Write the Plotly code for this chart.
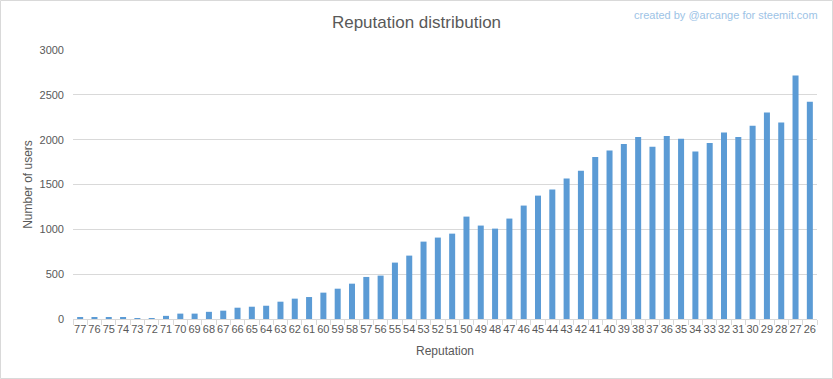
import plotly.graph_objects as go

reputation = [str(r) for r in range(77, 25, -1)]
users = [20, 18, 15, 15, 10, 10, 35, 60, 60, 80, 93, 126, 137, 148, 193, 227,
         245, 294, 338, 394, 469, 484, 629, 707, 863, 908, 952, 1142, 1042, 1008,
         1120, 1265, 1376, 1443, 1566, 1652, 1808, 1879, 1953, 2031, 1920, 2042,
         2009, 1867, 1964, 2079, 2031, 2154, 2302, 2191, 2715, 2422]

W, H = 833, 379
ml, mr, mt, mb = 73, 16, 50, 60
pw, ph = W - ml - mr, H - mt - mb

fig = go.Figure(go.Bar(x=reputation, y=users, marker_color="#5b9bd5", marker_line_width=0))

font = "Liberation Sans"
fig.update_layout(
    width=W, height=H,
    margin=dict(l=ml, r=mr, t=mt, b=mb, autoexpand=False),
    paper_bgcolor="white", plot_bgcolor="white",
    bargap=0.58,
    showlegend=False,
    font=dict(family=font, color="#595959", size=11),
    title=dict(text="Reputation distribution", x=0.5, xanchor="center", y=1 - 22 / H, yanchor="middle",
               font=dict(size=17, color="#595959", family=font)),
    xaxis=dict(type="category", showgrid=False, showline=True, linecolor="#d9d9d9",
               ticks="outside", tickson="boundaries", ticklen=5, tickcolor="#d9d9d9",
               tickangle=0, tickfont=dict(size=11, color="#595959"),
               title=dict(text="Reputation", font=dict(size=12, color="#595959"), standoff=12)),
    yaxis=dict(range=[0, 3000], dtick=500, showgrid=True, gridcolor="#d9d9d9", zeroline=False,
               showline=False, tickfont=dict(size=11, color="#595959"), ticks="", ticklabelstandoff=8,
               title=dict(text="Number of users", font=dict(size=12, color="#595959"), standoff=4)),
    annotations=[dict(text="created by @arcange for steemit.com", xref="paper", yref="paper",
                      x=(820 - ml) / pw, y=1 + (mt - 15) / ph, xanchor="right", yanchor="middle",
                      showarrow=False, font=dict(size=11, color="#9dc3e6", family=font))],
    shapes=[dict(type="rect", xref="paper", yref="paper",
                 x0=(0.5 - ml) / pw, x1=(W - 0.5 - ml) / pw,
                 y0=-(H - 0.5 - mt - ph) / ph, y1=1 + (mt - 0.5) / ph,
                 line=dict(color="#d9d9d9", width=1), layer="below")],
)

fig.write_html("out.html", config={"displayModeBar": False},
               post_script="document.body.style.margin='0';")
